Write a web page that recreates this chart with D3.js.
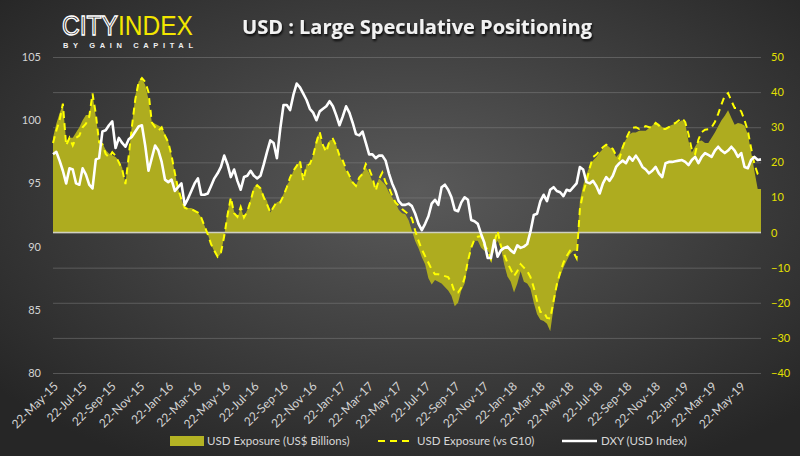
<!DOCTYPE html>
<html>
<head>
<meta charset="utf-8">
<script src="https://cdn.jsdelivr.net/npm/d3@7"></script>
<style>
  html, body { margin: 0; padding: 0; background: #333; }
  svg { display: block; }
  .axis text { font-family: Lato, "Open Sans", sans-serif; }
</style>
</head>
<body>
<div id="chart"></div>
<script>
// weekly COT report dates, first one Tue 19-May-2015
const startDate = new Date(2015, 4, 19);

const tickLabels = [
  '22-May-15', '22-Jul-15', '22-Sep-15', '22-Nov-15', '22-Jan-16', '22-Mar-16',
  '22-May-16', '22-Jul-16', '22-Sep-16', '22-Nov-16', '22-Jan-17', '22-Mar-17',
  '22-May-17', '22-Jul-17', '22-Sep-17', '22-Nov-17', '22-Jan-18', '22-Mar-18',
  '22-May-18', '22-Jul-18', '22-Sep-18', '22-Nov-18', '22-Jan-19', '22-Mar-19',
  '22-May-19'
];

// USD exposure, US$ billions (right axis)
const usdBillions = [
  27, 31, 34, 36.5, 26, 27, 27, 28.5, 30, 32,
  33.5, 33.5, 39.6, 33, 26.5, 25.5, 23.5, 22.5, 22, 21.5,
  20.5, 18.5, 14, 22, 31, 39, 43, 44, 42, 38,
  31.5, 31, 30.5, 30, 28, 26, 22, 17, 12.5, 9.5,
  7.1, 7, 7, 6.5, 5.7, 4.3, 2, -0.5, -3.3, -5.5,
  -7, -6, -1, 6, 10, 6, 4.3, 7.1, 4.3, 6.5,
  9.5, 13, 13.3, 12.9, 10.5, 9, 5.7, 7.5, 8.6, 9,
  11, 13.5, 15, 17.6, 19, 20.5, 15, 19.5, 19, 22,
  27, 28.6, 24, 24.5, 26.2, 26.5, 25, 22, 20, 17.5,
  16, 14.5, 13.5, 15.5, 17, 18.5, 17, 14.5, 13, 15.5,
  14.5, 13.5, 11.5, 10, 8.5, 6.5, 5.5, 5.2, 3.5, 0.5,
  -2.5, -4.5, -7, -9, -13, -14.8, -13.5, -14, -14.5, -15.5,
  -16.5, -18, -21, -20, -16.5, -14.5, -9, -4.5, -2.3, -2.3,
  -4.3, -5.2, -5.2, -6.7, -3.8, -2.3, -4.3, -9, -12.5, -14,
  -17.1, -14.5, -11, -14, -14.5, -16, -20, -23.3, -24.8, -25.2,
  -26, -28.1, -21.4, -15.7, -12.5, -10, -8, -6.2, -5.2, -5.2,
  9, 13.5, 16.5, 19, 20.5, 21.5, 22.8, 23.8, 25, 24.3,
  23.5, 21.5, 22.5, 25, 26.5, 28, 28.5, 28.5, 29, 29,
  29, 29.8, 30.5, 31.5, 31, 30, 29.8, 30.3, 30.7, 31,
  31.4, 32, 31, 26, 22.8, 24.5, 26, 26.2, 25.5, 25.5,
  27, 28.5, 30.3, 32, 33.3, 34.8, 32.7, 30.7, 31.2, 31,
  30.5, 28, 23, 17.5, 12.4, 12.4
];

// USD exposure vs G10 (right axis)
const usdVsG10 = [
  25.5, 29, 32, 36.7, 24.8, 27, 24.8, 27, 27.6, 30,
  31, 33, 39.6, 33.8, 25.7, 25.2, 22.4, 21.4, 22.9, 21.9,
  20, 18, 13.8, 21.9, 30.5, 38, 42.9, 44, 42.9, 40,
  31.4, 30, 29, 30, 27.6, 25.7, 21.9, 17, 12.4, 9.5,
  7.1, 6.7, 6.7, 6.2, 5.7, 4.3, 1.9, -0.5, -3.3, -5.2,
  -6.9, -5.7, -1, 5, 10, 5.5, 4.5, 7.3, 4.3, 6,
  9, 12.5, 13.5, 12.6, 10, 8, 5.7, 7.3, 8.8, 8.6,
  10.5, 12.9, 15.7, 17.6, 19, 20.5, 14.8, 19, 19.5, 21.9,
  25.7, 28.6, 24.8, 22.9, 26.2, 26.7, 24.8, 21.9, 20.5, 18.1,
  16.2, 14.3, 13.3, 15.7, 16.7, 19.5, 18.1, 15.7, 11.9, 15.2,
  17.1, 14.3, 12.9, 10.5, 8.6, 7.6, 6.7, 5.9, 5.2, 4.0,
  0.5, -2.4, -4.8, -6.7, -8.6, -10.5, -11.9, -11.9, -12.1, -12.4,
  -12.7, -14.3, -17.1, -17.1, -15.7, -12.9, -8.1, -4.3, -1.9, -1.2,
  -1.0, -3.8, -4.8, -7.6, -2.9, 0.5, -3.8, -6.2, -8.6, -10.5,
  -12.4, -11.0, -9.0, -10.0, -11.0, -12.7, -15.7, -19.5, -22.6, -22.6,
  -24.3, -24.5, -19.5, -14.8, -11.4, -8.6, -6.7, -5.2, -5.5, -7.3,
  6.7, 11.4, 14.5, 18.5, 21.5, 22.2, 23.3, 24.3, 25, 24.5,
  23.8, 22, 21, 24.3, 26.7, 28.6, 29.8, 30, 29.5, 29.8,
  30.3, 30, 30, 31.2, 30.5, 29.5, 29.5, 30, 30.8, 31.2,
  31.9, 32.6, 31.4, 28, 23.5, 22.4, 26.5, 28.6, 29.3, 29.4,
  30, 31.5, 33.8, 36.5, 39, 39.7, 37.5, 35.5, 35.5, 34.5,
  32, 29, 24, 19.5, 16.7, 15.5
];

// DXY, USD index (left axis)
const dxy = [
  97.3, 97.5, 96.8, 96.0, 95.0, 96.2, 96.1, 95.0, 94.9, 96.2,
  95.7, 94.9, 94.6, 96.9, 97.0, 99.1, 99.2, 99.6, 99.9, 97.8,
  98.6, 98.2, 97.9, 98.5, 98.7, 99.1, 99.5, 99.6, 98.0, 96.0,
  97.0, 98.0, 97.6, 96.7, 95.3, 95.1, 95.3, 94.4, 94.7, 95.0,
  93.3, 93.8, 94.4, 95.0, 95.4, 94.1, 94.1, 94.2, 94.8, 95.4,
  95.8, 96.3, 97.2, 96.5, 95.5, 96.1, 95.2, 94.5, 95.5, 95.6,
  96.0, 95.6, 95.4, 95.6, 96.5, 97.5, 98.4, 98.2, 97.0, 99.3,
  101.2, 101.2, 100.8, 102.0, 102.9, 102.6, 102.1, 101.6, 100.9, 100.6,
  100.0, 100.7, 100.9, 101.1, 101.5, 101.1, 100.4, 99.6, 100.3, 101.1,
  100.6, 99.8, 98.9, 98.8, 99.1, 98.2, 97.3, 97.3, 97.0, 97.2,
  97.2, 96.8, 95.8, 95.0, 94.4, 93.6, 93.3, 93.3, 93.4, 93.2,
  92.6, 91.8, 91.3, 91.8, 92.4, 93.4, 93.7, 93.3, 94.7, 94.9,
  94.5, 93.9, 92.9, 92.8, 93.5, 93.9, 93.7, 92.1, 92.0, 91.8,
  91.0, 90.3, 89.1, 89.1, 90.5, 89.2, 89.7, 89.9, 90.0, 89.7,
  89.5, 90.1, 89.9, 90.0, 90.2, 91.2, 92.5, 92.6, 93.6, 94.1,
  93.6, 94.5, 94.7, 94.4, 94.3, 94.0, 94.5, 94.4, 94.7, 95.0,
  96.3, 96.1, 95.1, 95.0, 95.2, 94.8, 94.2, 95.0, 95.5, 95.2,
  95.6, 96.3, 96.6, 96.8, 96.6, 97.1, 96.8, 97.2, 96.8, 96.3,
  96.1, 95.8, 96.0, 96.3, 95.8, 95.5, 96.6, 96.7, 96.7, 96.75,
  96.8, 96.85, 96.7, 96.45, 96.85, 97.1, 96.6, 97.1, 97.4, 97.25,
  97.1, 97.6, 97.9, 97.6, 97.4, 97.6, 97.9, 97.6, 97.1, 97.4,
  96.3, 96.2, 96.85, 97.1, 96.85, 96.9
];

const rightTicks = [-40, -30, -20, -10, 0, 10, 20, 30, 40, 50];
const leftTicks = [80, 85, 90, 95, 100, 105];

const W = 800, H = 456;
const plot = { left: 53, right: 761, top: 57, bottom: 373 };

const parseTick = d3.timeParse('%d-%b-%y');
const dates = usdBillions.map((_, i) => d3.timeWeek.offset(startDate, i));
const rows = dates.map((d, i) => ({ date: d, bn: usdBillions[i], g10: usdVsG10[i], dxy: dxy[i] }));

const svg = d3.select('#chart').append('svg')
  .attr('width', W)
  .attr('height', H);

const defs = svg.append('defs');
const bg = defs.append('radialGradient').attr('id', 'bg')
  .attr('cx', '52%').attr('cy', '42%').attr('r', '68%');
bg.append('stop').attr('offset', '0%').attr('stop-color', '#5a5a5a');
bg.append('stop').attr('offset', '100%').attr('stop-color', '#262626');

const shadow = defs.append('filter').attr('id', 'shadow')
  .attr('x', '-10%').attr('y', '-30%').attr('width', '130%').attr('height', '180%');
shadow.append('feDropShadow').attr('dx', 1).attr('dy', 2)
  .attr('stdDeviation', 1.2).attr('flood-color', '#000').attr('flood-opacity', 0.85);

svg.append('rect').attr('width', W).attr('height', H).attr('fill', 'url(#bg)');

const x = d3.scaleTime()
  .domain(d3.extent(dates))
  .range([plot.left, plot.right]);
const yR = d3.scaleLinear().domain([-40, 50]).range([plot.bottom, plot.top]);
const yL = d3.scaleLinear().domain([80, 105]).range([plot.bottom, plot.top]);

// gridlines (right axis ticks)
svg.append('g')
  .attr('transform', `translate(${plot.left},0)`)
  .call(d3.axisRight(yR).tickValues(rightTicks).tickSize(plot.right - plot.left).tickFormat(''))
  .call(g => g.select('.domain').remove())
  .call(g => g.selectAll('line').attr('stroke', '#8a8a8a').attr('stroke-opacity', 0.45).attr('stroke-width', 1));

// USD exposure area
svg.append('path')
  .datum(rows)
  .attr('fill', '#aeac1f')
  .attr('d', d3.area().x(d => x(d.date)).y0(yR(0)).y1(d => yR(d.bn)));

// zero line
svg.append('line')
  .attr('x1', plot.left).attr('x2', plot.right)
  .attr('y1', yR(0)).attr('y2', yR(0))
  .attr('stroke', '#d0d0c0').attr('stroke-width', 1.5);

// vs G10 dashed
svg.append('path')
  .datum(rows)
  .attr('fill', 'none')
  .attr('stroke', '#ffff00')
  .attr('stroke-width', 2)
  .attr('stroke-dasharray', '7,5')
  .attr('d', d3.line().x(d => x(d.date)).y(d => yR(d.g10)));

// DXY
svg.append('path')
  .datum(rows)
  .attr('fill', 'none')
  .attr('stroke', '#ffffff')
  .attr('stroke-width', 2.6)
  .attr('stroke-linejoin', 'round')
  .attr('d', d3.line().x(d => x(d.date)).y(d => yL(d.dxy)));

// left axis
svg.append('g').attr('class', 'axis')
  .attr('transform', `translate(${plot.left - 9},0)`)
  .call(d3.axisLeft(yL).tickValues(leftTicks).tickSize(0).tickPadding(3))
  .call(g => g.select('.domain').remove())
  .call(g => g.selectAll('text').attr('fill', '#d4d4d4').attr('font-size', 11));

// right axis
svg.append('g').attr('class', 'axis')
  .attr('transform', `translate(${plot.right + 7},0)`)
  .call(d3.axisRight(yR).tickValues(rightTicks).tickSize(0).tickPadding(3))
  .call(g => g.select('.domain').remove())
  .call(g => g.selectAll('text').attr('fill', '#e4e000').attr('font-size', 11));

// x axis
svg.append('g').attr('class', 'axis')
  .attr('transform', `translate(0,${plot.bottom})`)
  .call(d3.axisBottom(x).tickValues(tickLabels.map(parseTick)).tickSize(0).tickFormat(d3.timeFormat('%d-%b-%y')))
  .call(g => g.select('.domain').remove())
  .call(g => g.selectAll('text')
    .attr('fill', '#d4d4d4')
    .attr('font-size', 12)
    .attr('text-anchor', 'end')
    .attr('x', 0).attr('y', 0).attr('dy', '0.35em')
    .attr('transform', 'translate(1,11) rotate(-45)'));

// title
svg.append('text')
  .attr('x', 417).attr('y', 34)
  .attr('text-anchor', 'middle')
  .attr('fill', '#f2f2f2')
  .attr('font-family', '"Open Sans", sans-serif')
  .attr('font-weight', 'bold')
  .attr('font-size', 20)
  .attr('filter', 'url(#shadow)')
  .text('USD : Large Speculative Positioning');

// logo
const logo = svg.append('g').attr('font-family', '"Liberation Sans", sans-serif');
const brand = logo.append('text')
  .attr('x', 62).attr('y', 35)
  .attr('font-size', 27)
  .attr('textLength', 131).attr('lengthAdjust', 'spacingAndGlyphs');
brand.append('tspan')
  .attr('fill', 'none').attr('stroke', '#ffffff').attr('stroke-width', 1.3)
  .text('CITY');
brand.append('tspan')
  .attr('fill', '#f3e600')
  .text('INDEX');
logo.append('text')
  .attr('x', 63).attr('y', 48)
  .attr('font-size', 7.5).attr('font-weight', 'bold')
  .attr('fill', '#f0f0f0')
  .attr('textLength', 130).attr('lengthAdjust', 'spacing')
  .text('BY GAIN CAPITAL');

// legend
const legend = svg.append('g')
  .attr('font-family', 'Lato, "Open Sans", sans-serif')
  .attr('font-size', 11.5)
  .attr('fill', '#d6d6d6');
legend.append('rect').attr('x', 170).attr('y', 436).attr('width', 34).attr('height', 10).attr('fill', '#b4b324');
legend.append('text').attr('x', 207).attr('y', 441).attr('dy', '0.35em').text('USD Exposure (US$ Billions)');
legend.append('line').attr('x1', 378).attr('x2', 413).attr('y1', 441).attr('y2', 441)
  .attr('stroke', '#ffff00').attr('stroke-width', 2).attr('stroke-dasharray', '7,5');
legend.append('text').attr('x', 417).attr('y', 441).attr('dy', '0.35em').text('USD Exposure (vs G10)');
legend.append('line').attr('x1', 562).attr('x2', 597).attr('y1', 441).attr('y2', 441)
  .attr('stroke', '#ffffff').attr('stroke-width', 2.5);
legend.append('text').attr('x', 601).attr('y', 441).attr('dy', '0.35em').text('DXY (USD Index)');
</script>
</body>
</html>
